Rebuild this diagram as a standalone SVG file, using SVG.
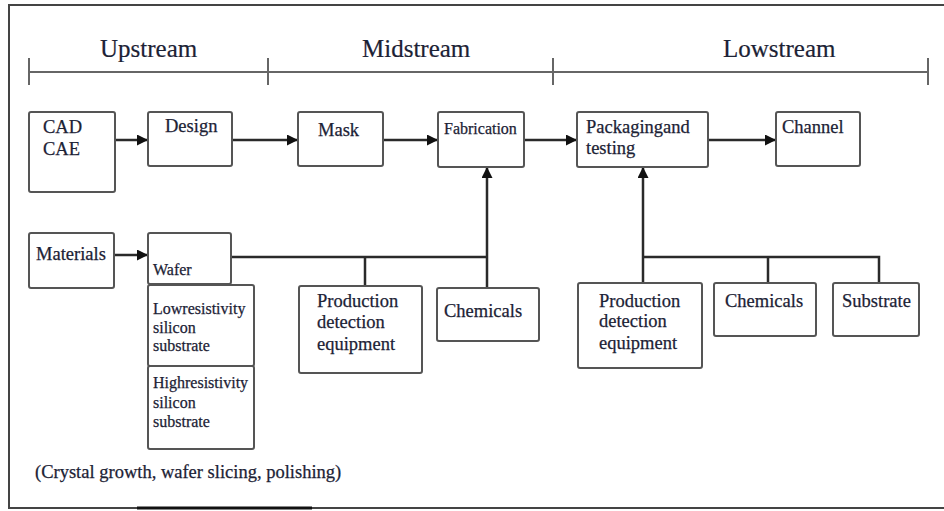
<svg xmlns="http://www.w3.org/2000/svg" width="944" height="511" viewBox="0 0 944 511">
<style>
.bx{fill:#fff;stroke:#555;stroke-width:2}
.t{font-family:"Liberation Serif","Times New Roman",serif;font-size:18.5px;fill:#1c2235;stroke:#1c2235;stroke-width:0.25}
.s{font-size:16px}
.h{font-size:25px;stroke-width:0.2}
.c{fill:none;stroke:#2a2a2a;stroke-width:2.5}
.tl{fill:none;stroke:#666;stroke-width:2}
.fr{fill:none;stroke:#444;stroke-width:2}
</style>
<defs>
<marker id="ah" viewBox="0 0 11 11" refX="11" refY="5.5" markerWidth="11" markerHeight="11" markerUnits="userSpaceOnUse" orient="auto">
<path d="M0,0 L11,5.5 L0,11 z" fill="#111"/>
</marker>
</defs>
<rect width="944" height="511" fill="#fff"/>
<g id="frame">
<path class="fr" d="M944,5 H9 V508 H944"/>
<path d="M137,508 H312" stroke="#111" stroke-width="3"/>
</g>
<g id="timeline">
<path class="tl" d="M29,72 H928 M29,58 V85 M268,58 V85 M553,58 V85 M928,58 V85"/>
<text class="t h" x="100" y="57">Upstream</text>
<text class="t h" x="362" y="57">Midstream</text>
<text class="t h" x="723" y="57">Lowstream</text>
</g>
<g id="connectors">
<path class="c" d="M115,140 H148" marker-end="url(#ah)"/>
<path class="c" d="M232,140 H298" marker-end="url(#ah)"/>
<path class="c" d="M383,140 H438" marker-end="url(#ah)"/>
<path class="c" d="M524,140 H577" marker-end="url(#ah)"/>
<path class="c" d="M708,140 H776" marker-end="url(#ah)"/>
<path class="c" d="M114,255 H148" marker-end="url(#ah)"/>
<path class="c" d="M231,257 H487 M365,257 V286 M487,288 V167" marker-end="url(#ah)"/>
<path class="c" d="M643,283 V167" marker-end="url(#ah)"/>
<path class="c" d="M643,257 H879 V283 M768,257 V283"/>
</g>
<g id="cad"><rect class="bx" x="29" y="112" width="86" height="80" rx="2"/>
<text class="t" x="43" y="133">CAD</text><text class="t" x="43" y="155">CAE</text></g>
<g id="design"><rect class="bx" x="148" y="112" width="84" height="54" rx="2"/>
<text class="t" x="165" y="132">Design</text></g>
<g id="mask"><rect class="bx" x="298" y="112" width="85" height="54" rx="2"/>
<text class="t" x="318" y="136">Mask</text></g>
<g id="fabrication"><rect class="bx" x="438" y="112" width="86" height="55" rx="2"/>
<text class="t s" x="444" y="134">Fabrication</text></g>
<g id="packaging"><rect class="bx" x="577" y="112" width="131" height="55" rx="2"/>
<text class="t" x="586" y="133">Packagingand</text><text class="t" x="586" y="154">testing</text></g>
<g id="channel"><rect class="bx" x="776" y="112" width="84" height="54" rx="2"/>
<text class="t" x="782" y="133">Channel</text></g>
<g id="materials"><rect class="bx" x="29" y="233" width="85" height="55" rx="2"/>
<text class="t" x="36" y="260">Materials</text></g>
<g id="wafer"><rect class="bx" x="148" y="233" width="83" height="51" rx="2"/>
<text class="t s" x="153" y="275">Wafer</text></g>
<g id="lowres"><rect class="bx" x="148" y="285" width="106" height="81" rx="2"/>
<text class="t s" x="153" y="314">Lowresistivity</text><text class="t s" x="153" y="333">silicon</text><text class="t s" x="153" y="351">substrate</text></g>
<g id="highres"><rect class="bx" x="148" y="366" width="106" height="83" rx="2"/>
<text class="t s" x="153" y="388">Highresistivity</text><text class="t s" x="153" y="408">silicon</text><text class="t s" x="153" y="427">substrate</text></g>
<g id="production1"><rect class="bx" x="299" y="286" width="123" height="87" rx="2"/>
<text class="t" x="317" y="307">Production</text><text class="t" x="317" y="328">detection</text><text class="t" x="317" y="350">equipment</text></g>
<g id="chemicals1"><rect class="bx" x="437" y="288" width="102" height="53" rx="2"/>
<text class="t" x="444" y="317">Chemicals</text></g>
<g id="production2"><rect class="bx" x="578" y="283" width="124" height="85" rx="2"/>
<text class="t" x="599" y="307">Production</text><text class="t" x="599" y="327">detection</text><text class="t" x="599" y="349">equipment</text></g>
<g id="chemicals2"><rect class="bx" x="714" y="283" width="102" height="53" rx="2"/>
<text class="t" x="725" y="307">Chemicals</text></g>
<g id="substrate"><rect class="bx" x="833" y="283" width="86" height="53" rx="2"/>
<text class="t" x="842" y="307">Substrate</text></g>
<g id="caption"><text class="t" x="35" y="478" font-size="19">(Crystal growth, wafer slicing, polishing)</text></g>
</svg>
